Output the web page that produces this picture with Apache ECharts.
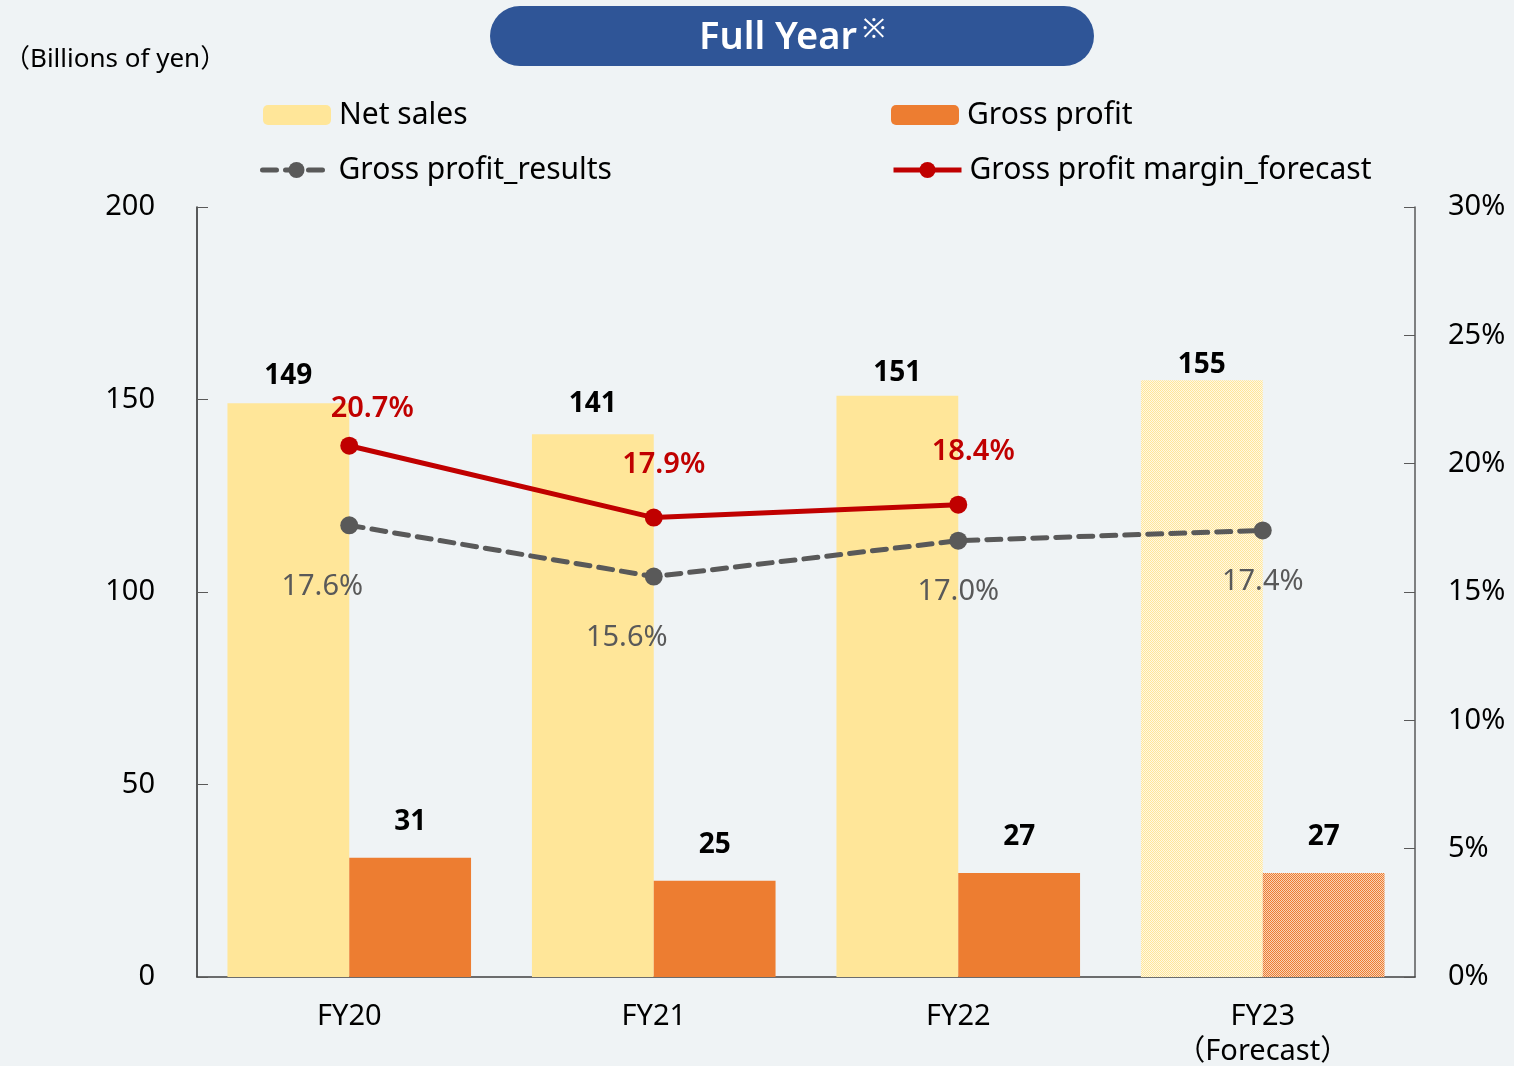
<!DOCTYPE html>
<html>
<head>
<meta charset="utf-8">
<script src="https://cdn.jsdelivr.net/npm/echarts@6/dist/echarts.min.js"></script>
<style>
  html, body { margin: 0; padding: 0; background: #EFF3F5; }
  #chart { width: 1514px; height: 1066px; }
</style>
</head>
<body>
<div id="chart"></div>
<script>
var categories = ['FY20', 'FY21', 'FY22', 'FY23\n（Forecast）'];
var netSales = [149, 141, 151, 155];
var grossProfit = [31, 25, 27, 27];
var marginResults = [17.6, 15.6, 17.0, 17.4];
var marginForecast = [20.7, 17.9, 18.4, '-'];
var forecastIdx = 3;

var FONT = "'Noto Sans', 'Noto Sans CJK JP', sans-serif";

// label nudges (picture was hand-laid out)
var salesLabelDist = [13, 16, 9, 1];
var forecastLabelShift = [[23, -37], [10, -53], [15, -53]];
var resultsLabelShift = [[-27, 61], [-27, 61], [0, 51], [0, 51]];

function checker(c1, c2) {
    var cv = document.createElement('canvas');
    cv.width = 2; cv.height = 2;
    var ctx = cv.getContext('2d');
    ctx.fillStyle = c2; ctx.fillRect(0, 0, 2, 2);
    ctx.fillStyle = c1; ctx.fillRect(0, 0, 1, 1); ctx.fillRect(1, 1, 1, 1);
    return { image: cv, repeat: 'repeat' };
}

var myChart = echarts.init(document.getElementById('chart'));

var salesData = netSales.map(function (v, i) {
    var item = { value: v, label: { distance: salesLabelDist[i] } };
    if (i === forecastIdx) item.itemStyle = { color: checker('#FFE699', '#FFF8E4') };
    return item;
});
var grossData = grossProfit.map(function (v, i) {
    var item = { value: v };
    if (i === forecastIdx) item.itemStyle = { color: checker('#ED7D31', '#F9D2B6') };
    return item;
});
var forecastData = marginForecast.map(function (v, i) {
    if (v === '-') return v;
    return { value: v, label: { offset: forecastLabelShift[i] } };
});
var resultsData = marginResults.map(function (v, i) {
    return { value: v, label: { offset: resultsLabelShift[i] } };
});

function pct(p) { return Number(p.value).toFixed(1) + '%'; }

var legendBase = {
    padding: 0,
    itemWidth: 68,
    itemHeight: 20,
    itemGap: 0,
    lineStyle: { width: 5 },
    textStyle: { fontFamily: FONT, fontSize: 30, color: '#000', padding: [0, 0, 0, 3] }
};

var option = {
    backgroundColor: '#EFF3F5',
    animation: false,
    textStyle: { fontFamily: FONT },
    graphic: [
        {
            type: 'rect',
            shape: { x: 490, y: 6, width: 604, height: 60, r: 30 },
            style: { fill: '#2F5597' }
        },
        {
            type: 'text',
            style: {
                text: 'Full Year', x: 778, y: 38, fill: '#fff',
                font: '600 38px ' + FONT, textAlign: 'center', textVerticalAlign: 'middle'
            }
        },
        {
            type: 'text',
            style: {
                text: '※', x: 874, y: 30, fill: '#fff',
                font: '28px ' + FONT, textAlign: 'center', textVerticalAlign: 'middle'
            }
        },
        {
            type: 'text',
            style: {
                text: '（Billions of yen）', x: 4, y: 60, fill: '#000',
                font: '26px ' + FONT, textAlign: 'left', textVerticalAlign: 'middle'
            }
        }
    ],
    legend: [
        Object.assign({ data: ['Net sales'], left: 263, top: 100 }, legendBase),
        Object.assign({ data: ['Gross profit'], left: 891, top: 100 }, legendBase),
        Object.assign({ data: ['Gross profit_results'], left: 260, top: 155 }, legendBase),
        Object.assign({ data: ['Gross profit margin_forecast'], left: 891, top: 155 }, legendBase)
    ],
    grid: { left: 197, right: 99, top: 207, bottom: 89, outerBoundsMode: 'none' },
    xAxis: {
        type: 'category',
        data: categories,
        axisLine: { lineStyle: { color: '#404040', width: 1.5 } },
        axisTick: { inside: true, length: 10, lineStyle: { color: '#595959' } },
        axisLabel: { fontFamily: FONT, fontSize: 29, color: '#000', margin: 22, lineHeight: 35 }
    },
    yAxis: [
        {
            type: 'value', min: 0, max: 200, interval: 50,
            splitLine: { show: false },
            axisLine: { show: true, lineStyle: { color: '#262626', width: 1.5 } },
            axisTick: { show: true, inside: true, length: 11, lineStyle: { color: '#595959' } },
            axisLabel: { fontFamily: FONT, fontSize: 29, color: '#000', margin: 42 }
        },
        {
            type: 'value', min: 0, max: 30, interval: 5,
            splitLine: { show: false },
            axisLine: { show: true, lineStyle: { color: '#595959', width: 1.5 } },
            axisTick: { show: true, inside: true, length: 11, lineStyle: { color: '#595959' } },
            axisLabel: { fontFamily: FONT, fontSize: 29, color: '#000', margin: 33, formatter: '{value}%' }
        }
    ],
    series: [
        {
            name: 'Net sales',
            type: 'bar',
            data: salesData,
            barGap: '0%',
            barCategoryGap: '20%',
            itemStyle: { color: '#FFE699' },
            label: { show: true, position: 'top', fontFamily: FONT, fontSize: 28, fontWeight: 'bold', color: '#000' }
        },
        {
            name: 'Gross profit',
            type: 'bar',
            data: grossData,
            itemStyle: { color: '#ED7D31' },
            label: { show: true, position: 'top', distance: 22, fontFamily: FONT, fontSize: 28, fontWeight: 'bold', color: '#000' }
        },
        {
            name: 'Gross profit_results',
            type: 'line',
            yAxisIndex: 1,
            data: resultsData,
            z: 5,
            symbol: 'circle',
            symbolSize: 18,
            itemStyle: { color: '#595959' },
            lineStyle: { color: '#595959', width: 5, type: [14, 9], cap: 'round' },
            label: { show: true, position: 'inside', formatter: pct, fontFamily: FONT, fontSize: 29, color: '#595959' }
        },
        {
            name: 'Gross profit margin_forecast',
            type: 'line',
            yAxisIndex: 1,
            data: forecastData,
            z: 6,
            symbol: 'circle',
            symbolSize: 18,
            itemStyle: { color: '#C00000' },
            lineStyle: { color: '#C00000', width: 5 },
            label: { show: true, position: 'inside', formatter: pct, fontFamily: FONT, fontSize: 29, fontWeight: 600, color: '#C00000' }
        }
    ]
};

myChart.setOption(option);
</script>
</body>
</html>
